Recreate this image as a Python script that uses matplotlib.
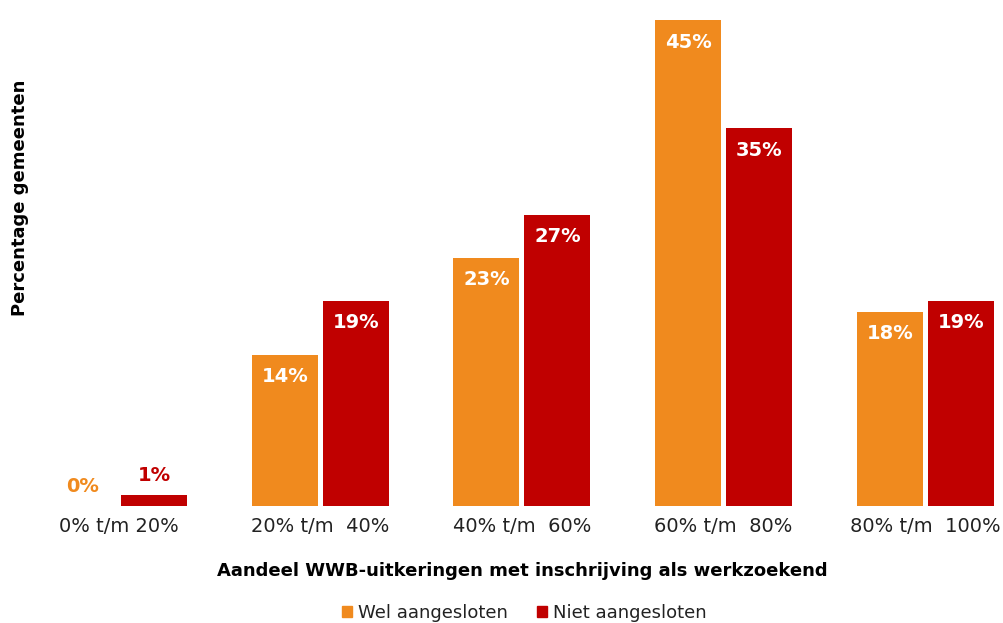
import matplotlib
matplotlib.use("Agg")
import matplotlib.pyplot as plt
import numpy as np
from matplotlib.patches import Patch

categories = ["0% t/m 20%", "20% t/m  40%", "40% t/m  60%", "60% t/m  80%", "80% t/m  100%"]
wel = [0, 14, 23, 45, 18]
niet = [1, 19, 27, 35, 19]
series_names = ["Wel aangesloten", "Niet aangesloten"]

orange = "#F08A1E"
red = "#C00000"

W, H = 1004, 623
fig = plt.figure(figsize=(W / 100, H / 100), dpi=100)
ax_left, ax_right = 0, 1004
ax_bottom, ax_top = 506, 15
ax = fig.add_axes([ax_left / W, 1 - ax_bottom / H, (ax_right - ax_left) / W, (ax_bottom - ax_top) / H])

spacing = 201.7
c0 = 118.5
ax.set_xlim(-c0 / spacing, (W - c0) / spacing)
ax.set_ylim(0, 45.5)

x = np.arange(len(categories))
bw = 66 / spacing
gap = 5 / spacing
off = (bw + gap) / 2
b1 = ax.bar(x - off, wel, bw, color=orange, label=series_names[0])
b2 = ax.bar(x + off, niet, bw, color=red, label=series_names[1])

for bars, vals, col in [(b1, wel, orange), (b2, niet, red)]:
    for rect, v in zip(bars, vals):
        cx = rect.get_x() + rect.get_width() / 2
        if v < 5:
            ax.annotate(f"{v}%", (cx, v), xytext=(0, 20), textcoords="offset pixels",
                        ha="center", va="center", color=col, fontsize=14, fontweight="bold")
        else:
            ax.annotate(f"{v}%", (cx, v), xytext=(0, -22), textcoords="offset pixels",
                        ha="center", va="center", color="white", fontsize=14, fontweight="bold")

ax.set_xticks(x)
ax.set_xticklabels(categories, fontsize=14, color="#222222")
ax.tick_params(axis="x", length=0, pad=8)
ax.set_yticks([])
for s in ax.spines.values():
    s.set_visible(False)

fig.text(522 / W, 1 - 571 / H, "Aandeel WWB-uitkeringen met inschrijving als werkzoekend",
         ha="center", va="center", fontsize=13, fontweight="bold", color="black")
fig.text(20 / W, 1 - 198 / H, "Percentage gemeenten", rotation=90,
         ha="center", va="center", fontsize=13, fontweight="bold", color="black")

handles = [Patch(color=orange), Patch(color=red)]
fig.legend(handles, series_names, loc="center", bbox_to_anchor=(524 / W, 1 - 613 / H),
           ncol=2, frameon=False, fontsize=13, handlelength=0.6, handleheight=0.6,
           handletextpad=0.3, columnspacing=1.6, labelcolor="#222222")

fig.savefig("out.png", dpi=100)
